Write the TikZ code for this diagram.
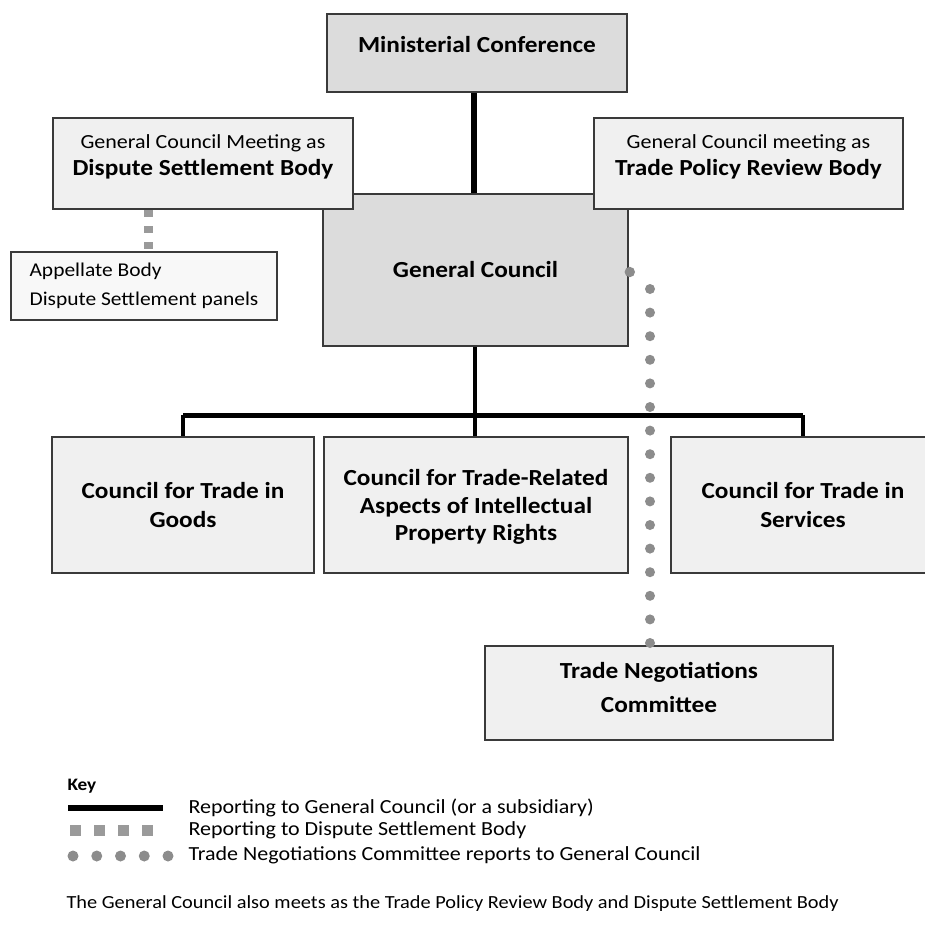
\documentclass[tikz,border=0pt]{standalone}
\usepackage{fontspec}
\setmainfont{Carlito}[FakeStretch=1.1]
\usetikzlibrary{shadows}
\definecolor{fillA}{HTML}{DCDCDC}
\definecolor{fillB}{HTML}{F0F0F0}
\definecolor{dotgray}{HTML}{8C8C8C}
\definecolor{sqgray}{HTML}{9A9A9A}
\definecolor{edge}{HTML}{3A3A3A}
\begin{document}
\begin{tikzpicture}[x=1pt,y=-1pt,
  box/.style={draw=edge, line width=1.6pt, inner sep=0pt, align=center,
    drop shadow={shadow xshift=0.8pt, shadow yshift=-1.4pt, opacity=0.35}},
  titlefont/.style={font=\fontsize{23}{28}\selectfont\bfseries},
  keyfont/.style={font=\fontsize{20}{24}\selectfont},
  heavy/.style={line width=6.5pt},
  mid/.style={line width=3.5pt},
  bar/.style={line width=5pt},
  dotline/.style={dotgray, line width=10pt, line cap=round, dash pattern=on 0pt off 23.6pt},
  sqline/.style={sqgray, line width=9pt, dash pattern=on 7pt off 9pt},
]
\useasboundingbox (0,0) rectangle (925,926);

% boxes
\node[box, fill=fillA, minimum width=305pt, minimum height=152pt, titlefont] (gc) at (475.5,270) {General Council};
\node[box, fill=fillA, minimum width=300pt, minimum height=78pt, titlefont, text depth=17pt] (mc) at (477,53) {Ministerial Conference};
\node[box, fill=fillB, minimum width=300pt, minimum height=91pt, text depth=17pt] (dsb) at (203,163.5)
  {{\fontsize{20}{24}\selectfont General Council Meeting as}\\[7pt]{\fontsize{23}{26}\selectfont\bfseries Dispute Settlement Body}};
\node[box, fill=fillB, minimum width=309pt, minimum height=91pt, text depth=17pt] (tprb) at (748.5,163.5)
  {{\fontsize{20}{24}\selectfont General Council meeting as}\\[7pt]{\fontsize{23}{26}\selectfont\bfseries Trade Policy Review Body}};
\node[box, fill=fillB!45!white, minimum width=266pt, minimum height=68pt, align=left, font=\fontsize{19.5}{29}\selectfont] (ab) at (144,286)
  {Appellate Body\\Dispute Settlement panels};
\node[box, fill=fillB, minimum width=262pt, minimum height=136pt, titlefont, font=\fontsize{23}{29}\selectfont\bfseries] (goods) at (183,505) {Council for Trade in\\Goods};
\node[box, fill=fillB, minimum width=304pt, minimum height=136pt, titlefont, text depth=-8pt, font=\fontsize{23}{27.5}\selectfont\bfseries] (trips) at (476,505) {Council for Trade-Related\\Aspects of Intellectual\\Property Rights};
\node[box, fill=fillB, minimum width=264pt, minimum height=136pt, titlefont, font=\fontsize{23}{29}\selectfont\bfseries] (services) at (803,505) {Council for Trade in\\Services};
\node[box, fill=fillB, minimum width=348pt, minimum height=94pt, text depth=12pt, font=\fontsize{23}{34}\selectfont\bfseries] (tnc) at (659,693) {Trade Negotiations\\Committee};

% black connectors
\coordinate (topx) at (474,0);
\draw[heavy] (gc.north -| topx) -- (mc.south -| topx);
\coordinate (barmid) at (475,415);
\draw[mid] (gc.south -| barmid) -- (barmid);
\draw[bar] (goods.north |- barmid) -- (services.north |- barmid);
\draw[mid] (goods.north |- barmid) -- (goods.north);
\draw[mid] (barmid) -- (trips.north -| barmid);
\draw[mid] (services.north |- barmid) -- (services.north);

% dispute settlement (squares)
\coordinate (sqtop) at (148,210);
\draw[sqline] (sqtop) -- (ab.north -| sqtop);

% trade negotiations (dots)
\fill[dotgray] (gc.east) ++(1,2) circle (5.2pt);
\coordinate (dtop) at (650,289);
\draw[dotline] (dtop) -- (tnc.north -| dtop);

% key
\node[anchor=west, font=\fontsize{17.5}{22}\selectfont\bfseries] (key) at (64,786) {Key};
\coordinate (k1a) at (68,808); \coordinate (k1b) at (163,808);
\draw[heavy] (k1a) -- (k1b);
\node[anchor=west, keyfont] (t1) at (185,808) {Reporting to General Council (or a subsidiary)};
\coordinate (k2a) at (70,830); \coordinate (k2b) at (153,830);
\draw[sqgray, line width=11pt, dash pattern=on 11pt off 13pt] (k2a) -- (k2b);
\node[anchor=west, keyfont] (t2) at (185,830) {Reporting to Dispute Settlement Body};
\coordinate (k3a) at (73,856); \coordinate (k3b) at (169,856);
\draw[dotline, line width=11pt, dash pattern=on 0pt off 23.75pt] (k3a) -- (k3b);
\node[anchor=west, keyfont] (t3) at (185,855) {Trade Negotiations Committee reports to General Council};
\node[anchor=west, font=\fontsize{18.5}{22}\selectfont] (foot) at (63,904) {The General Council also meets as the Trade Policy Review Body and Dispute Settlement Body};
\end{tikzpicture}
\end{document}
